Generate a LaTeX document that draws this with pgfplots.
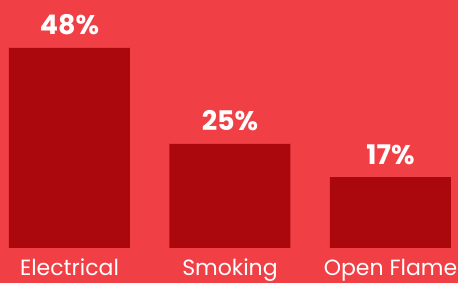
\documentclass[border=0pt]{standalone}
\usepackage{pgfplots}
\pgfplotsset{compat=1.18}
\usepackage{fontspec}
\setmainfont{Poppins}
\definecolor{bgred}{RGB}{240,64,70}
\definecolor{barred}{RGB}{170,8,12}
\begin{document}
\begin{tikzpicture}[x=1pt,y=1pt]
\useasboundingbox (0,0) rectangle (458,283);
\fill[bgred] (0,0) rectangle (458,283);
\begin{axis}[
  at={(0pt,35pt)}, anchor=south west,
  scale only axis, width=458pt, height=200pt,
  xmin=-0.433, xmax=2.4206, ymin=0, ymax=48,
  axis line style={draw=none}, clip=false,
  ytick=\empty, xtick={0,1,2},
  xticklabels={Electrical,Smoking,Open Flame},
  major tick length=0pt,
  xticklabel style={font=\fontsize{22}{26}\selectfont, text=white, anchor=base, inner sep=0pt, yshift=-27.5pt},
  ybar, bar width=121pt, bar shift=0pt,
  point meta=explicit symbolic,
  nodes near coords,
  every node near coord/.append style={font=\fontsize{27}{32}\selectfont\bfseries, text=white, anchor=base, yshift=13pt},
]
\addplot[fill=barred, draw=none] coordinates {(0,48) [48\%] (1,25) [25\%] (2,17) [17\%]};
\end{axis}
\end{tikzpicture}
\end{document}
